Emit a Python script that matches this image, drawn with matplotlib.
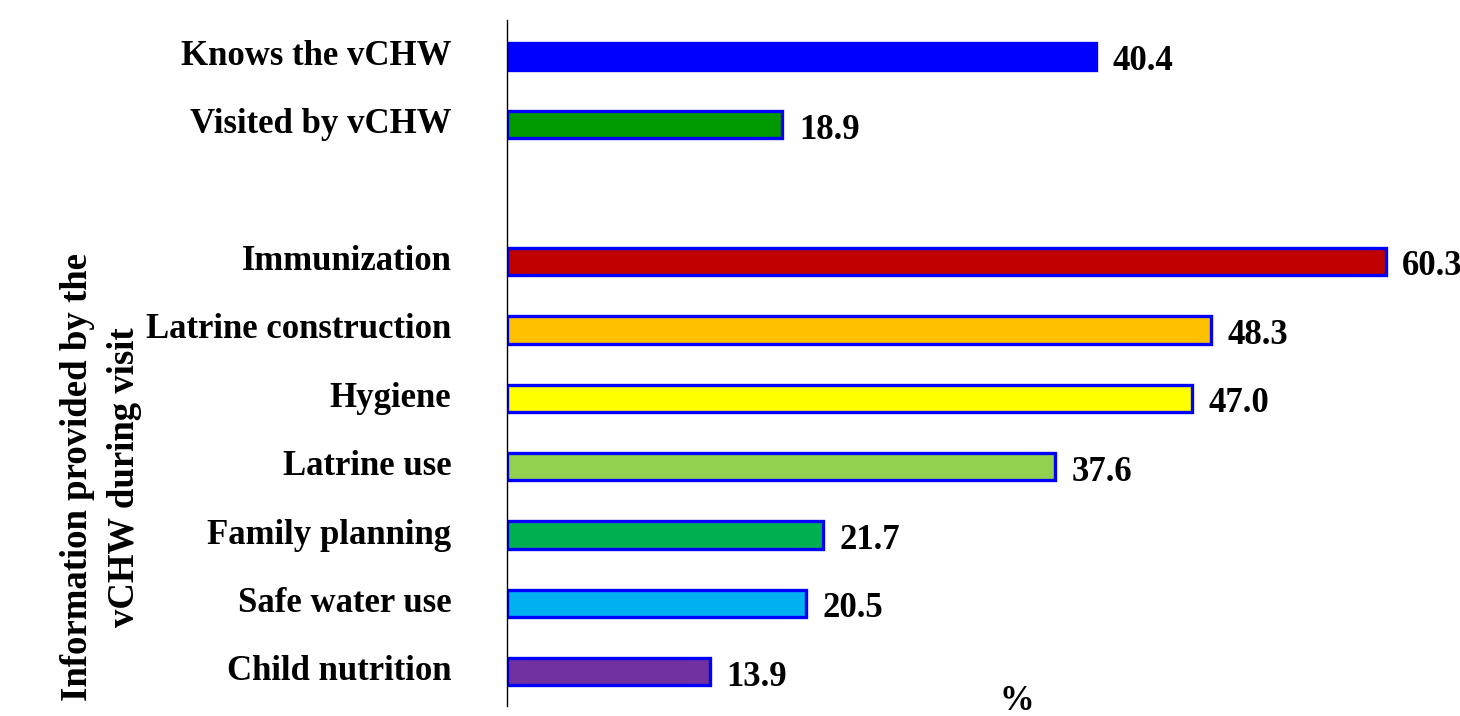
import matplotlib
matplotlib.use("Agg")
import matplotlib.pyplot as plt

categories = ["Knows the vCHW", "Visited by vCHW", "Immunization", "Latrine construction",
              "Hygiene", "Latrine use", "Family planning", "Safe water use", "Child nutrition"]
values = [40.4, 18.9, 60.3, 48.3, 47.0, 37.6, 21.7, 20.5, 13.9]
colors = ["#0000FF", "#009900", "#C00000", "#FFC000", "#FFFF00", "#92D050",
          "#00B050", "#00B0F0", "#7030A0"]
positions = [0, 1, 3, 4, 5, 6, 7, 8, 9]
ylabel = "Information provided by the\nvCHW during visit"
xlabel = "%"

plt.rcParams['font.family'] = ['Liberation Serif', 'DejaVu Serif']
plt.rcParams['font.weight'] = 'bold'

fig = plt.figure(figsize=(14.6, 7.16), dpi=100)
ax = fig.add_axes([507/1460, 1-706/716, 1020/1460, (706-20)/716])
ax.barh(positions, values, height=0.40, color=colors, edgecolor="#0000FF", linewidth=2.4)
for p, v in zip(positions, values):
    ax.annotate(f"{v:.1f}", xy=(v, p), xytext=(12, -4), textcoords="offset points",
                ha="left", va="center", fontsize=25, fontweight="bold", annotation_clip=False)
ax.set_xlim(0, 70)
ax.set_ylim(9.5, -0.53)
ax.set_yticks(positions)
ax.set_yticklabels(categories, fontsize=25, fontweight="bold", va="center")
for lbl in ax.get_yticklabels():
    lbl.set_y(lbl.get_position()[1])
ax.tick_params(axis="y", length=0, pad=40)
ax.tick_params(axis="x", length=0, labelbottom=False)
for s in ["top", "right", "bottom"]:
    ax.spines[s].set_visible(False)
ax.spines["left"].set_linewidth(1.0)
fig.text(1017/1460, 1-702/716, xlabel, ha="center", va="center", fontsize=25, fontweight="bold")
fig.text(101/1460, 1-477/716, ylabel, rotation=90, ha="center", va="center",
         multialignment="center", fontsize=26.5, fontweight="bold", linespacing=1.45)
fig.savefig("out.png", dpi=100)
